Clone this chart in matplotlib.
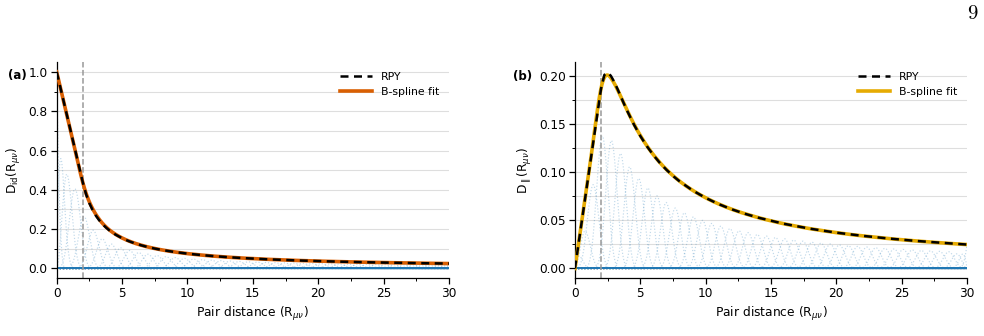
import numpy as np
import matplotlib
matplotlib.use("Agg")
import matplotlib.pyplot as plt
from matplotlib.ticker import MultipleLocator

# ---------------- data ----------------
# RPY curves
r_vals = [0, 0.5, 1, 1.5, 2, 2.25, 2.5, 2.75, 3, 3.25, 3.5, 3.75, 4, 4.5, 5, 5.5,
          6, 6.5, 7, 7.5, 8, 9, 10, 11, 12, 13, 14, 16, 18, 20, 22, 24, 26, 28, 30]
d_id = [1.0, 0.8594, 0.7188, 0.5781, 0.4375, 0.3772, 0.332, 0.2967, 0.2685, 0.2454,
        0.2260, 0.2095, 0.1953, 0.1722, 0.154, 0.1394, 0.1273, 0.1172, 0.1086, 0.1012,
        0.0947, 0.0840, 0.0755, 0.0686, 0.0628, 0.0579, 0.0538, 0.0470, 0.0418, 0.0376,
        0.0341, 0.0313, 0.0289, 0.0268, 0.0250]
d_par = [0.0, 0.0469, 0.0938, 0.1406, 0.1875, 0.2016, 0.204, 0.2006, 0.1944, 0.1871,
         0.1793, 0.1716, 0.1641, 0.1502, 0.138, 0.1274, 0.1181, 0.1099, 0.1028, 0.0964,
         0.0908, 0.0813, 0.0735, 0.0670, 0.0616, 0.0570, 0.0530, 0.0465, 0.0414, 0.0373,
         0.0340, 0.0312, 0.0288, 0.0268, 0.0249]

# B-spline coefficients (cubic, clamped, uniform knots on [0, 30])
coef_id = [1.0, 0.9346, 0.8038, 0.6076, 0.397, 0.2918, 0.2268, 0.1860, 0.1579, 0.1373,
           0.1214, 0.1090, 0.0988, 0.0904, 0.0834, 0.0773, 0.0721, 0.0676, 0.0635, 0.0600,
           0.0568, 0.0539, 0.0514, 0.0490, 0.0468, 0.0449, 0.0431, 0.0414, 0.0399, 0.0385,
           0.0372, 0.0359, 0.0347, 0.0336, 0.0326, 0.0316, 0.0307, 0.0299, 0.0291, 0.0283,
           0.0276, 0.0269, 0.0262, 0.0256, 0.0252, 0.0250]
coef_par = [0.0, 0.0218, 0.0654, 0.1308, 0.207, 0.1998, 0.1797, 0.1588, 0.1407, 0.1258,
            0.1134, 0.1031, 0.0944, 0.0870, 0.0807, 0.0752, 0.0704, 0.0661, 0.0623, 0.0589,
            0.0560, 0.0532, 0.0507, 0.0485, 0.0463, 0.0445, 0.0427, 0.0411, 0.0396, 0.0382,
            0.0369, 0.0356, 0.0345, 0.0335, 0.0325, 0.0315, 0.0306, 0.0298, 0.0290, 0.0282,
            0.0275, 0.0268, 0.0261, 0.0255, 0.0251, 0.0249]
n_intervals = 43
r_cut = 2.0

# ---------------- helpers ----------------
def bspline_basis(x, knots, degree=3):
    x = np.asarray(x, float)
    nb = len(knots) - degree - 1
    B = np.zeros((len(knots) - 1, len(x)))
    for i in range(len(knots) - 1):
        if knots[i] < knots[i + 1]:
            B[i] = (x >= knots[i]) & (x < knots[i + 1])
    last = np.max(np.nonzero(np.diff(knots) > 0))
    B[last, x >= knots[-1]] = 1.0
    for k in range(1, degree + 1):
        Bn = np.zeros((len(knots) - 1 - k, len(x)))
        for i in range(len(knots) - 1 - k):
            d1 = knots[i + k] - knots[i]
            d2 = knots[i + k + 1] - knots[i + 1]
            t1 = (x - knots[i]) / d1 * B[i] if d1 > 0 else 0
            t2 = (knots[i + k + 1] - x) / d2 * B[i + 1] if d2 > 0 else 0
            Bn[i] = t1 + t2
        B = Bn
    return B[:nb]

inner = np.linspace(0, 30, n_intervals + 1)
knots = np.concatenate([[0, 0, 0], inner, [30, 30, 30]])
xx = np.linspace(0, 30, 1500)
basis = bspline_basis(xx, knots)

plt.rcParams['font.family'] = ['DejaVu Sans']
fig = plt.figure(figsize=(9.84, 3.36), dpi=100)

ax_a = fig.add_axes([0.0576, 0.1717, 0.3987, 0.6437])
ax_b = fig.add_axes([0.5843, 0.1717, 0.3984, 0.6437])

panels = [
    (ax_a, d_id, coef_id, '#d95f02', r'D$_{\mathrm{id}}$(R$_{\mu\nu}$)', 0.1, 0.2, -0.05, 1.05),
    (ax_b, d_par, coef_par, '#e6ab02', r'D$_{\parallel}$(R$_{\mu\nu}$)', 0.025, 0.05, -0.01025, 0.215),
]

for ax, rpy, coef, col, ylab, ymin_step, ymaj_step, y0, y1 in panels:
    for j, c in enumerate(coef):
        ax.plot(xx, c * basis[j], ls=':', color='#1f77b4', alpha=0.28, lw=0.85, zorder=1)
    ax.axhline(0, color='#1f77b4', lw=1.4, zorder=1.5)
    fit = np.array(coef) @ basis
    ax.plot(xx, fit, color=col, lw=2.6, label='B-spline fit', zorder=3)
    ax.plot(r_vals, rpy, color='black', lw=1.8, ls=(0, (3.2, 2.2)), label='RPY', zorder=4)
    ax.axvline(r_cut, color='#999999', lw=1.1, ls='--', zorder=2)

    ax.set_xlim(0, 30)
    ax.set_ylim(y0, y1)
    ax.xaxis.set_major_locator(MultipleLocator(5))
    ax.xaxis.set_minor_locator(MultipleLocator(2.5))
    ax.yaxis.set_major_locator(MultipleLocator(ymaj_step))
    ax.yaxis.set_minor_locator(MultipleLocator(ymin_step))
    ax.grid(True, axis='y', which='both', color='#dedede', lw=0.8, zorder=0)
    ax.set_axisbelow(True)
    for s in ('top', 'right'):
        ax.spines[s].set_visible(False)
    for s in ('left', 'bottom'):
        ax.spines[s].set_linewidth(0.9)
    ax.tick_params(which='major', length=4, width=0.9, labelsize=8.7, pad=2.5)
    ax.tick_params(which='minor', length=2.5, width=0.7)
    ax.set_xlabel(r'Pair distance (R$_{\mu\nu}$)', fontsize=8.8, labelpad=3)
    ax.set_ylabel(ylab, fontsize=8.8, labelpad=4)

    h, l = ax.get_legend_handles_labels()
    ax.legend(h[::-1], l[::-1], loc='upper right', frameon=False, fontsize=7.8,
              handlelength=3.0, labelspacing=0.5)

ax_a.text(-0.124, 0.94, '(a)', transform=ax_a.transAxes, fontsize=8.5,
          fontweight='bold', ha='left', va='center')
ax_b.text(-0.158, 0.935, '(b)', transform=ax_b.transAxes, fontsize=8.5,
          fontweight='bold', ha='left', va='center')

fig.text(0.994, 0.96, r'$9$', math_fontfamily='cm', fontsize=15, ha='right', va='center')

fig.savefig('out.png', dpi=100)
